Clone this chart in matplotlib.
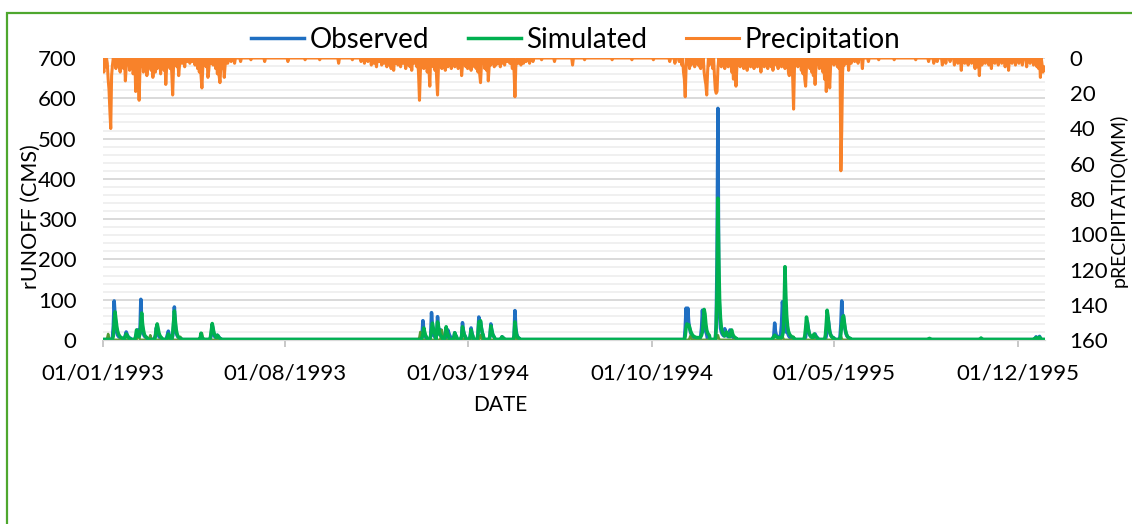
import numpy as np
import pandas as pd
import matplotlib
matplotlib.use("Agg")
import matplotlib.pyplot as plt
import matplotlib.dates as mdates
from matplotlib.patches import Rectangle

plt.rcParams['font.family'] = ['Lato', 'DejaVu Sans']

# daily record, day 0 = 01/01/1993
start_date = "1993-01-01"
n_days = 1095

# runoff events: (first day, daily values in CMS)
observed_base = 1.0
observed_events = [
    (11, [8, 35, 97, 60, 32, 18, 12, 9, 7, 6, 5, 4, 3]),
    (25, [6, 12, 20, 14, 9, 6, 5, 4]),
    (38, [6, 15, 25, 18, 10]),
    (43, [20, 101, 50, 25, 15, 10, 8, 6, 5]),
    (60, [5, 12, 30, 22, 14, 9, 6, 5, 4]),
    (74, [6, 14, 22, 12, 8]),
    (81, [10, 35, 82, 40, 20, 12, 8, 6, 5, 4, 3]),
    (125, [4, 15, 38, 25, 14, 8, 6, 5, 12, 10, 6, 4, 3]),
    (370, [4, 12, 48, 25, 14, 9]),
    (381, [10, 68, 35, 18, 10, 8]),
    (388, [15, 58, 30, 18, 12, 25, 16, 10, 8]),
    (399, [5, 10, 25, 18, 12, 8, 6]),
    (408, [6, 18, 12, 8]),
    (417, [8, 43, 25, 14, 9, 6]),
    (427, [8, 30, 18, 10]),
    (436, [12, 57, 30, 44, 30, 18, 12]),
    (450, [10, 40, 25, 15, 10, 7]),
    (463, [4, 8, 6, 4]),
    (478, [10, 73, 30, 15, 9, 6, 4]),
    (677, [30, 79, 50, 79, 45, 30, 20, 14, 10, 8, 6]),
    (695, [10, 30, 74, 40, 25, 35, 20, 14]),
    (713, [40, 200, 575, 150, 60, 30, 20, 15, 12, 10, 28, 18, 12, 10, 8, 9, 25, 15, 10, 8, 6, 5]),
    (779, [5, 10, 42, 20, 12, 8, 7, 6, 8, 15, 40, 95, 70, 45, 30, 20, 32, 18, 12, 8, 6, 5]),
    (817, [8, 25, 45, 30, 18, 12, 9, 7, 6, 5, 10, 15, 10, 7, 5]),
    (841, [10, 30, 55, 40, 22, 14, 9, 7, 6, 5]),
    (857, [8, 40, 97, 55, 60, 40, 25, 15, 10, 7, 5, 4]),
    (1083, [3, 5, 8, 5, 4, 6, 9, 5]),
]

simulated_base = 1.5
simulated_events = [
    (12, [10, 45, 70, 52, 34, 22, 15, 11, 8, 6, 5, 4]),
    (26, [8, 15, 12, 8, 6]),
    (38, [10, 25, 18, 10, 8]),
    (43, [15, 40, 67, 40, 25, 15, 10, 8, 6]),
    (61, [10, 30, 40, 30, 18, 12, 8, 6]),
    (75, [8, 15, 10, 7]),
    (81, [15, 45, 72, 50, 28, 16, 10, 7, 5, 4]),
    (113, [5, 17, 8, 4]),
    (125, [8, 25, 41, 30, 18, 12, 8, 6, 12, 9, 6, 4]),
    (371, [5, 15, 30, 20, 12, 8]),
    (381, [10, 25, 42, 30, 20, 14]),
    (388, [15, 45, 35, 22, 14, 10, 8]),
    (398, [12, 33, 22, 14, 9]),
    (408, [8, 18, 12, 8]),
    (417, [10, 33, 22, 14, 10]),
    (427, [10, 25, 16, 10]),
    (436, [15, 45, 35, 48, 30, 18, 12]),
    (450, [12, 35, 25, 15, 10, 7]),
    (463, [5, 8, 6, 4]),
    (478, [10, 45, 25, 12, 7, 5, 4]),
    (677, [10, 30, 40, 36, 38, 32, 24, 18, 14, 11, 9, 8, 7, 6, 6, 6, 6, 6]),
    (695, [8, 12, 20, 45, 76, 65, 40, 25, 18, 14, 12]),
    (713, [30, 120, 352, 200, 100, 55, 32, 22, 16, 12, 10, 14, 20, 15, 11, 9, 8, 18, 25, 16, 11, 8, 6, 5]),
    (779, [5, 8, 12, 10, 8, 7, 6, 6, 6, 6, 6, 10, 20, 80, 182, 110, 60, 35, 22, 16, 12, 10, 8, 7, 6]),
    (816, [10, 30, 57, 45, 28, 18, 12, 9, 7, 6, 12, 15, 12, 8, 6]),
    (840, [12, 40, 74, 60, 35, 20, 13, 9, 7, 6]),
    (858, [15, 40, 55, 60, 45, 28, 18, 12, 8, 6, 5, 4]),
    (960, [3, 4, 3]),
    (1020, [3, 5, 3]),
    (1083, [3, 4, 6, 4, 3, 5, 7, 4]),
]

# second simulated component (not in legend)
component_base = 0.5
component_events = [
    (5, [6, 15, 6]), (40, [8, 20, 8]), (54, [5, 12, 5]), (77, [4, 10, 4]),
    (89, [3, 8, 3]), (114, [6, 17, 6]), (368, [8, 20, 8]), (393, [10, 25, 10]),
    (416, [4, 10, 4]), (438, [5, 12, 5]), (478, [4, 9, 4]), (682, [4, 10, 4]),
    (714, [5, 12, 5]), (789, [4, 10, 4]), (802, [3, 8, 3]), (857, [4, 10, 4]),
]

# precipitation (mm) on rainy days
rain_day = [
    0, 1, 3, 5, 6, 7, 8, 9, 10, 11, 13, 15, 17, 19, 20, 22, 24, 26, 27, 29, 31, 33, 35, 36, 38, 39,
    41, 42, 43, 45, 47, 49, 51, 52, 54, 56, 58, 59, 61, 63, 65, 67, 69, 71, 73, 74, 76, 78, 80, 81,
    82, 84, 86, 88, 89, 92, 95, 98, 101, 104, 107, 110, 112, 114, 115, 116, 118, 120, 122, 123, 125,
    128, 131, 133, 135, 136, 137, 139, 141, 142, 145, 149, 153,
    160, 172, 188, 215, 235, 252, 274, 290,
    300, 304, 308, 312, 315, 318, 321, 324, 327, 330, 333, 335, 338, 340, 343, 346, 349, 352, 355,
    357, 359, 362,
    365, 367, 368, 369, 371, 373, 375, 377, 379, 380, 382, 384, 386, 388, 389, 390, 392, 394, 396,
    398, 400, 401, 403, 405, 407, 409, 411, 413, 415, 417, 418, 420, 422, 424, 426, 428, 430, 432,
    434, 436, 438, 439, 440, 442, 444, 446, 448, 449, 451, 453, 455, 457, 460, 462, 464, 467, 470,
    473, 476, 478, 479, 480, 483, 486, 489, 492, 496, 500,
    510, 525, 546, 560, 592, 615, 640, 659, 665,
    670, 673, 675, 676, 677, 678, 680, 682, 684, 686, 688, 690, 692, 694, 695, 697, 699, 700, 701,
    702, 703, 705, 707, 709, 711, 712, 713, 714, 715, 717, 719, 721, 723, 725, 727, 729, 731, 733,
    734, 736, 737, 739, 741, 743, 745, 747, 749, 751, 753, 755, 757, 759, 761, 763, 765, 767, 769,
    771, 773, 775, 777, 779, 781, 783, 785, 787, 789, 791, 793, 795, 797, 798, 800, 802, 803, 804,
    806, 808, 810, 812, 814, 816, 817, 818, 820, 822, 824, 826, 828, 829, 831, 833, 835, 837, 839,
    841, 842, 844, 845, 846, 848, 850, 852, 854, 856, 858, 859, 860, 862, 864, 867, 870, 874, 878,
    883, 890, 902, 920, 945,
    960, 966, 970, 976, 980, 985, 990, 994, 998, 1002, 1006, 1010, 1014, 1017, 1019, 1022, 1026,
    1030, 1033, 1037, 1041, 1045, 1049, 1053, 1057, 1061, 1065, 1069, 1074, 1078, 1082, 1086,
    1088, 1090, 1092, 1093, 1094,
]
rain_mm = [
    4, 8, 5, 3, 12, 18, 30, 40, 10, 4, 3, 6, 3, 5, 8, 3, 6, 13, 5, 3, 7, 4, 9, 6, 19, 8,
    10, 24, 6, 4, 8, 5, 10, 6, 4, 7, 11, 5, 8, 6, 3, 9, 4, 7, 15, 5, 3, 6, 9, 21,
    5, 3, 5, 10, 4, 3, 5, 2, 3, 2, 4, 6, 8, 10, 17, 6, 3, 5, 11, 7, 3,
    4, 6, 9, 10, 14, 5, 6, 11, 4, 3, 2, 3,
    2, 1, 2, 2, 1, 1, 3, 1,
    2, 3, 2, 4, 3, 5, 2, 4, 3, 5, 4, 6, 7, 3, 4, 5, 3, 6, 4,
    5, 7, 3,
    5, 10, 24, 8, 4, 6, 3, 8, 6, 16, 4, 5, 7, 12, 21, 6, 3, 6, 4,
    7, 3, 5, 4, 6, 3, 5, 4, 6, 5, 10, 4, 3, 5, 6, 3, 7, 4, 5,
    6, 8, 9, 14, 4, 3, 6, 7, 13, 5, 4, 3, 5, 4, 3, 5, 3, 4, 2,
    3, 6, 8, 22, 5, 3, 4, 3, 2, 3, 2,
    1, 2, 4, 1, 1, 1, 1, 2, 3,
    2, 4, 8, 12, 22, 5, 3, 6, 4, 3, 5, 3, 4, 5, 6, 3, 8, 12, 15,
    21, 8, 4, 3, 6, 10, 18, 20, 19, 6, 3, 5, 4, 6, 3, 5, 4, 8, 12,
    10, 16, 6, 4, 5, 3, 6, 4, 7, 3, 5, 4, 6, 3, 5, 4, 8, 3, 5,
    4, 6, 3, 5, 7, 3, 4, 6, 3, 5, 4, 6, 5, 8, 10, 4, 12, 29, 6,
    4, 5, 3, 7, 9, 12, 16, 5, 4, 6, 8, 10, 15, 5, 3, 6, 4, 8, 12,
    19, 7, 10, 17, 5, 3, 4, 3, 5, 6, 64, 41, 8, 4, 3, 7, 3, 2, 3,
    6, 2, 1, 1, 1,
    2, 3, 2, 4, 3, 2, 4, 3, 7, 3, 4, 3, 6, 5, 10, 4, 3,
    4, 6, 3, 4, 3, 5, 7, 3, 4, 3, 4, 5, 3, 4, 5,
    6, 11, 4, 8, 5,
]

tick_dates = ["1993-01-01", "1993-08-01", "1994-03-01", "1994-10-01", "1995-05-01", "1995-12-01"]


def daily_series(base, events):
    arr = np.full(n_days, base, dtype=float)
    for first, vals in events:
        arr[first:first + len(vals)] = vals
    return arr


dates = pd.date_range(start_date, periods=n_days, freq="D")
observed = daily_series(observed_base, observed_events)
simulated = daily_series(simulated_base, simulated_events)
component = daily_series(component_base, component_events)
precip = np.zeros(n_days)
precip[rain_day] = rain_mm

fig = plt.figure(figsize=(11.32, 5.24), dpi=100)
ax = fig.add_axes([103 / 1132, 1 - 340 / 524, 941.7 / 1132, 282 / 524])
ax2 = ax.twinx()

# grid: light every 20, darker every 100
for v in range(20, 701, 20):
    if v % 100 == 0:
        ax.axhline(v, color="#d9d9d9", lw=1.4, zorder=0)
    else:
        ax.axhline(v, color="#f0f0f0", lw=1.4, zorder=0)

l_obs, = ax.plot(dates, observed, color="#1f6fc2", lw=2.5, zorder=3)
ax.plot(dates, component, color="#549a36", lw=1.8, zorder=3)
l_sim, = ax.plot(dates, simulated, color="#00b050", lw=2.5, zorder=4)
l_pre, = ax2.plot(dates, precip, color="#f8822a", lw=2.2)

ax.set_ylim(0, 700)
ax.set_yticks(range(0, 701, 100))
ax2.set_ylim(160, 0)
ax2.set_yticks(range(0, 161, 20))
ax.set_xlim(pd.Timestamp("1993-01-01"), pd.Timestamp("1996-01-01"))
ax.set_xticks(pd.to_datetime(tick_dates))
ax.xaxis.set_major_formatter(mdates.DateFormatter("%d/%m/%Y"))

for a in (ax, ax2):
    for s in ("top", "left", "right"):
        a.spines[s].set_visible(False)
    a.spines["bottom"].set_color("#d9d9d9")
ax.tick_params(axis="y", length=0, pad=19, labelsize=16)
ax2.tick_params(axis="y", length=0, pad=18, labelsize=16)
ax.tick_params(axis="x", length=5, width=1.2, color="#bfbfbf", pad=12, labelsize=16)

fig.text(500 / 1132, 1 - 405 / 524, "DATE", ha="center", va="center", fontsize=15)
fig.text(31 / 1132, 1 - 217 / 524, "rUNOFF (CMS)", rotation=90, ha="center", va="center", fontsize=15.5)
fig.text(1119 / 1132, 1 - 200 / 524, "pRECIPITATIO(MM)", rotation=90, ha="center", va="center", fontsize=14)

fig.legend([l_obs, l_sim, l_pre], ["Observed", "Simulated", "Precipitation"],
           loc="center", bbox_to_anchor=(576 / 1132, 1 - 40 / 524), ncol=3, frameon=False,
           fontsize=20, handlelength=1.9, handletextpad=0.2, columnspacing=1.4)

fig.add_artist(Rectangle((7 / 1132, -0.1), 1.2, 1 - 13 / 524 + 0.1, transform=fig.transFigure,
                         fill=False, ec="#4ea72e", lw=1.6))

fig.savefig("out.png", dpi=100)
